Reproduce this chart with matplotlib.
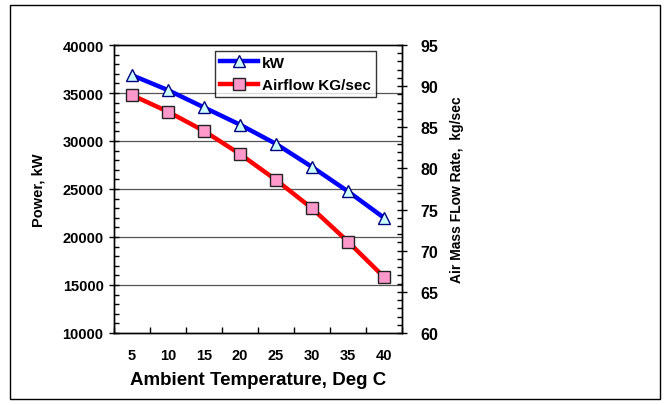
import matplotlib
matplotlib.use("Agg")
import matplotlib.pyplot as plt
from matplotlib.ticker import MultipleLocator, FixedLocator
from matplotlib.patches import Rectangle

# Data
temps = [5, 10, 15, 20, 25, 30, 35, 40]
power_kw = [36850, 35300, 33500, 31700, 29700, 27300, 24750, 22000]
airflow = [88.9, 86.9, 84.55, 81.75, 78.6, 75.15, 71.1, 66.8]

plt.rcParams['font.family'] = ['Liberation Sans', 'DejaVu Sans']
plt.rcParams['font.weight'] = 'bold'
plt.rcParams['axes.labelweight'] = 'bold'

fig = plt.figure(figsize=(6.67, 4.06), dpi=100)

# Outer frame around the chart
fig.patches.append(Rectangle((10 / 667, 1 - 400 / 406), 650 / 667, 394 / 406,
                             transform=fig.transFigure, fill=False,
                             edgecolor='black', linewidth=1.0))

ax = fig.add_axes([114 / 667, 1 - 334 / 406, 288 / 667, 288 / 406])
ax2 = ax.twinx()

x = list(range(len(temps)))

ax.set_xlim(-0.5, len(temps) - 0.5)
ax.set_ylim(10000, 40000)
ax2.set_ylim(60, 95)

# Gridlines on the power axis
for v in range(15000, 40000, 5000):
    ax.axhline(v, color='#555555', linewidth=0.9, zorder=0)

line_kw, = ax.plot(x, power_kw, color='#0000ff', linewidth=3.2,
                   marker='^', markersize=9, markerfacecolor='#ccffff',
                   markeredgecolor='#000080', markeredgewidth=1.0,
                   label='kW', zorder=3)
line_af, = ax2.plot(x, airflow, color='#ff0000', linewidth=3.2,
                    marker='s', markersize=8, markerfacecolor='#ff99cc',
                    markeredgecolor='#222222', markeredgewidth=1.0,
                    label='Airflow KG/sec', zorder=3)

# x axis: labels at category centres, ticks at boundaries
ax.xaxis.set_major_locator(FixedLocator(x))
ax.set_xticklabels([str(t) for t in temps])
ax.xaxis.set_minor_locator(FixedLocator([i - 0.5 for i in range(len(temps) + 1)]))
ax.tick_params(axis='x', which='major', length=0, pad=11, labelsize=10.5)
ax.tick_params(axis='x', which='minor', direction='in', length=4, width=1)

ax.yaxis.set_major_locator(MultipleLocator(5000))
ax.yaxis.set_minor_locator(MultipleLocator(1000))
ax.tick_params(axis='y', which='major', direction='inout', length=7, width=1,
               labelsize=10.5, pad=4)
ax.tick_params(axis='y', which='minor', direction='in', length=3.5, width=1)

ax2.yaxis.set_major_locator(MultipleLocator(5))
ax2.yaxis.set_minor_locator(MultipleLocator(1))
ax2.tick_params(axis='y', which='major', direction='inout', length=7, width=1,
                labelsize=11.5, pad=10)
ax2.tick_params(axis='y', which='minor', direction='in', length=3.5, width=1)

for a in (ax, ax2):
    for s in a.spines.values():
        s.set_linewidth(1.0)
ax.spines['top'].set_color('#555555')

ax.set_xlabel('Ambient Temperature, Deg C', fontsize=13.5, fontweight='bold',
              labelpad=6)
ax.set_ylabel('Power, kW', fontsize=10.5, fontweight='bold', labelpad=12)
ax2.set_ylabel('Air Mass FLow Rate,  kg/sec', fontsize=10,
               fontweight='bold', labelpad=8)

leg = ax2.legend([line_kw, line_af], ['kW', 'Airflow KG/sec'],
                 loc='upper left', bbox_to_anchor=(101 / 288, 1 - 6 / 288),
                 borderaxespad=0,
                 frameon=True, fancybox=False, edgecolor='black',
                 prop={'size': 11, 'weight': 'bold'},
                 handlelength=2.5, borderpad=0.3,
                 labelspacing=0.55, handletextpad=0.3)
leg.get_frame().set_linewidth(1.0)

fig.savefig('out.png', dpi=100)
